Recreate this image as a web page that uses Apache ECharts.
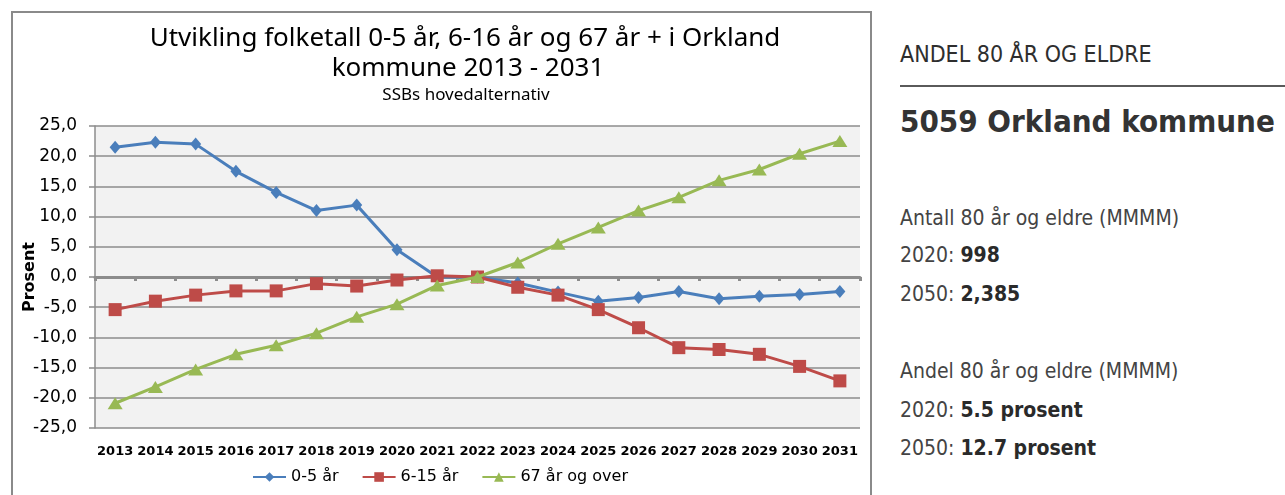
<!DOCTYPE html>
<html>
<head>
<meta charset="utf-8">
<script src="https://cdn.jsdelivr.net/npm/echarts@6/dist/echarts.min.js"></script>
<style>
  html, body { margin: 0; padding: 0; background: #fff; overflow: hidden; }
  #frame { position: absolute; left: 11px; top: 11px; width: 861px; height: 520px; border: 1px solid #8a8a8a; border-width: 2px 2px 0 2px; box-sizing: border-box; }
  #chart { position: absolute; left: 0; top: 0; width: 880px; height: 495px; }
  #side { position: absolute; left: 900px; top: 0; width: 385px; height: 495px; font-family: 'DejaVu Sans Condensed', 'DejaVu Sans', sans-serif; font-stretch: condensed; color: #444; white-space: nowrap; }
  #side div { position: absolute; left: 0; }
  .hd { font-size: 23px; color: #2e2e2e; height: 30px; line-height: 30px; }
  .big { font-size: 31px; font-weight: bold; color: #333; height: 40px; line-height: 40px; }
  .txt { font-size: 21px; height: 28px; line-height: 28px; }
  .txt b { color: #2a2a2a; }
  #rule { height: 0; width: 385px; border-top: 2px solid #5a5a5a; }
</style>
</head>
<body>
<div id="frame"></div>
<div id="chart"></div>
<div id="side">
  <div class="hd" style="top:39px">ANDEL 80 ÅR OG ELDRE</div>
  <div id="rule" style="top:85px"></div>
  <div class="big" style="top:101px">5059 Orkland kommune</div>
  <div class="txt" style="top:204px">Antall 80 år og eldre (MMMM)</div>
  <div class="txt" style="top:241px">2020: <b>998</b></div>
  <div class="txt" style="top:280px">2050: <b>2,385</b></div>
  <div class="txt" style="top:357px">Andel 80 år og eldre (MMMM)</div>
  <div class="txt" style="top:396px">2020: <b>5.5 prosent</b></div>
  <div class="txt" style="top:434px">2050: <b>12.7 prosent</b></div>
</div>
<script>
// år og prosentvis endring
const years = ['2013', '2014', '2015', '2016', '2017', '2018', '2019', '2020', '2021', '2022',
               '2023', '2024', '2025', '2026', '2027', '2028', '2029', '2030', '2031'];
const age0to5 = [21.5, 22.3, 22.0, 17.5, 14.0, 11.0, 11.9, 4.5, 0.0, 0.0,
                 -1.0, -2.5, -4.0, -3.4, -2.4, -3.6, -3.2, -2.9, -2.4];
const age6to15 = [-5.4, -4.0, -3.0, -2.3, -2.3, -1.1, -1.5, -0.5, 0.2, 0.0,
                  -1.7, -3.0, -5.4, -8.4, -11.7, -12.0, -12.8, -14.8, -17.2];
const age67plus = [-20.9, -18.2, -15.3, -12.8, -11.3, -9.3, -6.6, -4.5, -1.4, 0.0,
                   2.4, 5.5, 8.2, 11.0, 13.2, 16.0, 17.8, 20.4, 22.5];
const seriesNames = ['0-5 år', '6-15 år', '67 år og over'];

const axisGrey = '#8c8c8c';
let myChart = echarts.init(document.getElementById('chart'));

let option = {
    animation: false,
    color: ['#4a7ebb', '#be4b48', '#98b954'],
    graphic: [
        {
            type: 'text',
            style: {
                x: 465, y: 39, text: 'Utvikling folketall 0-5 år, 6-16 år og 67 år + i Orkland',
                font: '26px "Noto Sans"', fill: '#000', align: 'center', verticalAlign: 'middle'
            }
        },
        {
            type: 'text',
            style: {
                x: 468, y: 69, text: 'kommune 2013 - 2031',
                font: '26px "Noto Sans"', fill: '#000', align: 'center', verticalAlign: 'middle'
            }
        },
        {
            type: 'text',
            style: {
                x: 466, y: 95, text: 'SSBs hovedalternativ',
                font: '17px "Noto Sans"', fill: '#000', align: 'center', verticalAlign: 'middle'
            }
        }
    ],
    grid: {
        left: 95, right: 20, top: 126, bottom: 67,
        show: true, backgroundColor: '#f2f2f2', borderWidth: 0
    },
    legend: {
        left: 247, top: 464,
        itemWidth: 33, itemHeight: 12, itemGap: 23,
        textStyle: { fontFamily: 'DejaVu Sans', fontSize: 16, color: '#000' },
        data: seriesNames
    },
    xAxis: [
        {
            // linje ved 0
            type: 'category',
            data: years,
            boundaryGap: true,
            axisLine: { onZero: true, lineStyle: { color: axisGrey, width: 3 } },
            axisTick: { show: true, length: 4, lineStyle: { color: axisGrey, width: 3 } },
            axisLabel: { show: false },
            splitLine: { show: false },
            z: 3
        },
        {
            // årstall nederst
            type: 'category',
            data: years,
            position: 'bottom',
            boundaryGap: true,
            axisLine: { show: false, onZero: false },
            axisTick: { show: false },
            axisLabel: {
                margin: 17, fontFamily: 'DejaVu Sans', fontWeight: 'bold',
                fontSize: 13, color: '#000', interval: 0
            }
        }
    ],
    yAxis: {
        type: 'value',
        min: -25, max: 25, interval: 5,
        name: 'Prosent',
        nameLocation: 'middle',
        nameRotate: 90,
        nameGap: 57,
        nameMoveOverlap: false,
        nameTextStyle: { fontFamily: 'DejaVu Sans', fontWeight: 'bold', fontSize: 16, color: '#000' },
        axisLine: { show: true, lineStyle: { color: axisGrey, width: 1.5 } },
        axisTick: { show: true, length: 6, lineStyle: { color: axisGrey, width: 1.5 } },
        axisLabel: {
            margin: 18, fontFamily: 'DejaVu Sans', fontSize: 17, color: '#000',
            formatter: v => v.toFixed(1).replace('.', ',')
        },
        splitLine: { lineStyle: { color: axisGrey, width: 1.5 } }
    },
    series: [
        {
            name: seriesNames[0], type: 'line', data: age0to5,
            symbol: 'diamond', symbolSize: [11, 13],
            lineStyle: { width: 3 }, z: 4
        },
        {
            name: seriesNames[1], type: 'line', data: age6to15,
            symbol: 'rect', symbolSize: 13,
            lineStyle: { width: 3 }, z: 5
        },
        {
            name: seriesNames[2], type: 'line', data: age67plus,
            symbol: 'triangle', symbolSize: [15, 12],
            lineStyle: { width: 3 }, z: 6
        }
    ]
};

myChart.setOption(option, true);
</script>
</body>
</html>
